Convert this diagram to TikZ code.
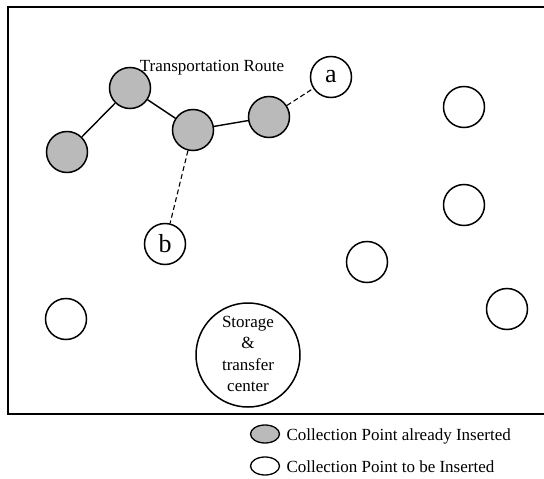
\documentclass[tikz,border=0pt]{standalone}
\usepackage{fontspec}
\setmainfont{Liberation Serif}
\usetikzlibrary{shapes.geometric}
\begin{document}
\begin{tikzpicture}[x=1pt,y=-1pt,
  pt/.style={circle,draw,line width=1.5pt,minimum size=41pt,inner sep=0pt},
  done/.style={pt,fill=black!27},
  todo/.style={pt,fill=white},
  letter/.style={font=\fontsize{26}{26}\selectfont},
  route/.style={line width=1.4pt},
  link/.style={line width=1.1pt,dash pattern=on 5pt off 3pt},
  label/.style={font=\fontsize{17}{21.5}\selectfont},
  keymark/.style={ellipse,draw,line width=1.3pt,minimum width=29pt,minimum height=18pt,inner sep=0pt}]
\useasboundingbox (0,0) rectangle (544,479);
\clip (0,0) rectangle (544,479);

% open frame of the service area
\draw[line width=1.2pt] (560,7) -- (8,7) -- (8,414) -- (560,414);

% collection points already on the route
\node[done] (g1) at (67,152) {};
\node[done] (g2) at (130,88) {};
\node[done] (g3) at (193,130) {};
\node[done] (g4) at (269,117) {};

% candidate points
\node[todo,letter] (a) at (331,77) {a};
\node[todo,letter] (b) at (165,244) {b};
\node[todo] (w1) at (464,107) {};
\node[todo] (w2) at (464,205) {};
\node[todo] (w3) at (367,262) {};
\node[todo] (w4) at (66,319) {};
\node[todo] (w5) at (507,309) {};

% storage and transfer center
\node[circle,draw,line width=1.5pt,minimum size=104pt,inner sep=0pt] (st) at (248,355) {};
\node[label,align=center] at (248,354) {Storage\\\&\\transfer\\center};

% route and insertion links
\draw[route] (g1) -- (g2) -- (g3) -- (g4);
\draw[link] (g4) -- (a);
\draw[link] (g3) -- (b);

\node[label,anchor=base] (title) at (212,71) {Transportation Route};

% legend
\node[keymark,fill=black!27] (k1) at (265,434) {};
\node[keymark,fill=white] (k2) at (265,466) {};
\node[label,anchor=base west] at (283,440) {Collection Point already Inserted};
\node[label,anchor=base west] at (283,472) {Collection Point to be Inserted};
\end{tikzpicture}
\end{document}
